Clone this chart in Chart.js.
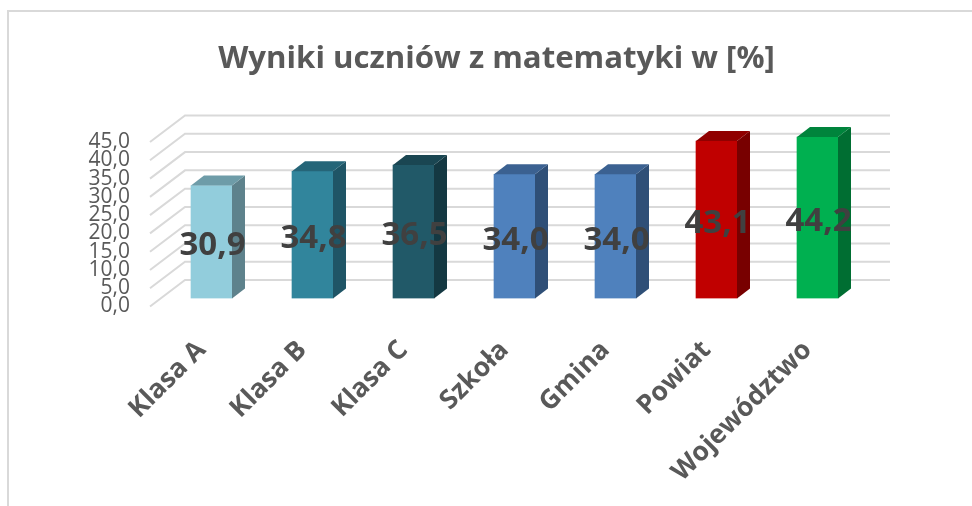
<!DOCTYPE html>
<html>
<head>
<meta charset="utf-8">
<script src="https://cdn.jsdelivr.net/npm/chart.js@4/dist/chart.umd.min.js"></script>
<style>
  html, body { margin: 0; padding: 0; background: #fff; overflow: hidden; }
  #frame { position: absolute; left: 7px; top: 10px; width: 970px; height: 500px; border-left: 2px solid #d9d9d9; border-top: 2px solid #d9d9d9; }
  #wrap { position: absolute; left: 0; top: 0; width: 972px; height: 506px; }
</style>
</head>
<body>
<div id="frame"></div>
<div id="wrap"><canvas id="chart"></canvas></div>
<script>
const categories = ["Klasa A", "Klasa B", "Klasa C", "Szkoła", "Gmina", "Powiat", "Województwo"];
const values = [30.9, 34.8, 36.5, 34.0, 34.0, 43.1, 44.2];
const barColors = ["#92cddc", "#31859c", "#215968", "#4f81bd", "#4f81bd", "#c00000", "#00b050"];
const topColors = ["#6e9ca8", "#256578", "#1a4652", "#3b6191", "#3b6191", "#900000", "#00843c"];
const sideColors = ["#5e828c", "#1f5566", "#143842", "#2f4f77", "#2f4f77", "#780000", "#006e32"];
const chartTitle = "Wyniki uczniów z matematyki w [%]";

function comma(v) {
  return Number(v).toFixed(1).replace(".", ",");
}

// back wall + gridlines, the scale itself is the front plane
const wall = {
  id: "wall",
  beforeDatasetsDraw(chart) {
    const c = chart.ctx, y = chart.scales.y, a = chart.chartArea;
    c.save();
    c.strokeStyle = "#d9d9d9";
    c.lineWidth = 2;
    y.ticks.forEach(function (t) {
      const py = y.getPixelForValue(t.value);
      c.beginPath();
      c.moveTo(a.left - 11, py);
      c.lineTo(a.left + 24, py - 26.5);
      c.lineTo(a.right + 22, py - 26.5);
      c.stroke();
    });
    c.restore();
    // bars stand a bit behind the front plane
    c.save();
    c.translate(0, -8);
  },
  afterDatasetsDraw(chart) {
    const c = chart.ctx;
    const dx = 13, dy = 10;
    chart.getDatasetMeta(0).data.forEach(function (bar, i) {
      const half = bar.width / 2;
      const r = bar.x + half, l = bar.x - half;
      c.fillStyle = sideColors[i];
      c.beginPath();
      c.moveTo(r, bar.y);
      c.lineTo(r + dx, bar.y - dy);
      c.lineTo(r + dx, bar.base - dy);
      c.lineTo(r, bar.base);
      c.closePath();
      c.fill();
      c.fillStyle = topColors[i];
      c.beginPath();
      c.moveTo(l, bar.y);
      c.lineTo(l + dx, bar.y - dy);
      c.lineTo(r + dx, bar.y - dy);
      c.lineTo(r, bar.y);
      c.closePath();
      c.fill();
    });
    c.restore();
    // value labels
    c.save();
    c.font = "bold 33px 'Open Sans'";
    c.fillStyle = "#404040";
    c.textAlign = "center";
    c.textBaseline = "middle";
    chart.getDatasetMeta(0).data.forEach(function (bar, i) {
      c.fillText(comma(values[i]), bar.x + 1, (bar.y + bar.base) / 2 - 4);
    });
    c.restore();
  }
};

new Chart(document.getElementById("chart"), {
  type: "bar",
  data: {
    labels: categories,
    datasets: [{
      data: values,
      backgroundColor: barColors,
      barThickness: 41
    }]
  },
  plugins: [wall],
  options: {
    responsive: true,
    maintainAspectRatio: false,
    animation: false,
    layout: { padding: { left: 21 } },
    plugins: {
      legend: { display: false },
      tooltip: { enabled: false },
      title: {
        display: true,
        text: chartTitle,
        color: "#595959",
        font: { family: "'Open Sans'", size: 31.2, weight: "bold" },
        padding: { top: 40.3, bottom: 64.3 }
      }
    },
    scales: {
      y: {
        min: 0,
        max: 45,
        grid: { display: false },
        border: { display: false },
        afterFit: function (s) { s.width = 140; },
        ticks: {
          stepSize: 5,
          autoSkip: false,
          padding: 23,
          color: "#595959",
          font: { family: "'Open Sans'", size: 21 },
          callback: function (v) { return comma(v); }
        }
      },
      // empty axis, only keeps the room on the right
      spacer: {
        position: "right",
        grid: { display: false },
        border: { display: false },
        ticks: { display: false },
        afterFit: function (s) { s.width = 104; }
      },
      x: {
        grid: { display: false },
        border: { display: false },
        afterFit: function (s) { s.height = 199.5; },
        ticks: {
          minRotation: 45,
          maxRotation: 45,
          autoSkip: false,
          padding: 20,
          labelOffset: -10,
          color: "#595959",
          font: { family: "'Open Sans'", size: 26.5, weight: "bold" }
        }
      }
    }
  }
});
</script>
</body>
</html>
